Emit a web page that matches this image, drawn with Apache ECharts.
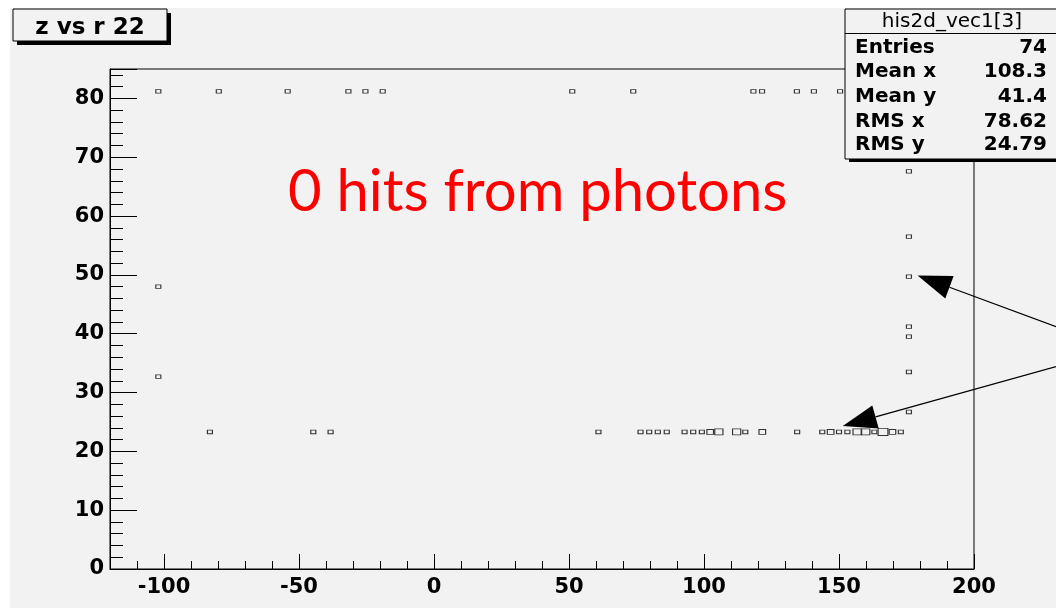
<!DOCTYPE html>
<html>
<head>
<meta charset="UTF-8">
<title>z vs r 22</title>
<script src="https://cdn.jsdelivr.net/npm/echarts@6/dist/echarts.min.js"></script>
<style>
    html, body { margin: 0; padding: 0; background: #fff; }
    #pad { position: absolute; left: 10px; top: 8px; width: 1046px; height: 600px; background: #f2f2f2; }
    #chart { position: absolute; left: 0; top: 0; width: 1056px; height: 610px; }
</style>
</head>
<body>
<div id="pad"></div>
<div id="chart"></div>
<script>
    // hit positions (r, z) and bin contents
    const rValues = [
        -102.1, -79.7, -54.2, -31.7, -25.4, -19.0, 51.2, 73.8, 118.3, 121.5, 134.4, 140.7, 150.4,
        -102.1, -102.1,
        175.9, 175.9, 175.9, 175.9, 175.9, 175.9, 175.9,
        -83.0, -44.7, -38.3, 60.9, 76.5, 79.7, 82.9, 86.2, 92.8, 96.0, 99.2, 102.3, 105.5, 112.1,
        115.3, 121.6, 134.5, 143.8, 146.9, 150.0, 153.1, 156.7, 159.9, 163.1, 166.3, 169.8, 172.9
    ];
    const zValues = [
        81.2, 81.2, 81.2, 81.2, 81.2, 81.2, 81.2, 81.2, 81.2, 81.2, 81.2, 81.2, 81.2,
        48.0, 32.7,
        67.6, 56.5, 49.7, 41.2, 39.5, 33.5, 26.7,
        23.3, 23.3, 23.3, 23.3, 23.3, 23.3, 23.3, 23.3, 23.3, 23.3, 23.3, 23.3, 23.3, 23.3,
        23.3, 23.3, 23.3, 23.3, 23.3, 23.3, 23.3, 23.3, 23.3, 23.3, 23.3, 23.3, 23.3
    ];
    const counts = [
        1, 1, 1, 1, 1, 1, 1, 1, 1, 1, 1, 1, 1,
        1, 1,
        1, 1, 1, 1, 1, 1, 1,
        1, 1, 1, 1, 1, 1, 1, 1, 1, 1, 1, 2, 3, 3,
        1, 2, 1, 1, 2, 1, 1, 3, 3, 1, 4, 2, 1
    ];

    const xRange = [-120, 200];
    const yRange = [0, 85];

    const titleText = 'z vs r 22';
    const statsName = 'his2d_vec1[3]';
    const statsLabels = ['Entries', 'Mean x', 'Mean y', 'RMS x', 'RMS y'];
    const statsValues = ['74', '108.3', '41.4', '78.62', '24.79'];
    const noteText = '0 hits from photons';

    // arrows: start and tip in data units
    const arrows = [
        { from: [230.4, 41.2], to: [179.1, 49.9] },
        { from: [230.4, 34.4], to: [151.4, 24.3] }
    ];

    const chart = echarts.init(document.getElementById('chart'));
    const axisFont = { color: '#000', fontFamily: 'DejaVu Sans', fontWeight: 'bold', fontSize: 21 };

    chart.setOption({
        animation: false,
        backgroundColor: 'transparent',
        grid: {
            left: 110, right: 82, top: 69, bottom: 41,
            show: true, borderColor: '#000', borderWidth: 1, backgroundColor: 'transparent'
        },
        xAxis: {
            type: 'value',
            min: xRange[0],
            max: xRange[1],
            splitNumber: 5,
            axisLine: { onZero: false, lineStyle: { color: '#000', width: 1 } },
            axisTick: { inside: true, length: 15, lineStyle: { color: '#000' } },
            minorTick: { show: true, splitNumber: 5, length: 8, lineStyle: { color: '#000' } },
            splitLine: { show: false },
            axisLabel: Object.assign({ margin: 8, showMinLabel: false }, axisFont)
        },
        yAxis: {
            type: 'value',
            min: yRange[0],
            max: yRange[1],
            interval: 10,
            axisLine: { show: true, onZero: false, lineStyle: { color: '#000', width: 1 } },
            axisTick: { show: true, inside: true, length: 27, lineStyle: { color: '#000' } },
            minorTick: { show: true, splitNumber: 5, length: 13, lineStyle: { color: '#000' } },
            splitLine: { show: false },
            axisLabel: Object.assign({ margin: 6, showMaxLabel: false }, axisFont)
        },
        series: [{
            type: 'scatter',
            silent: true,
            symbol: 'rect',
            data: rValues.map((r, i) => [r, zValues[i], counts[i]]),
            symbolSize: v => [3.4 + 1.6 * v[2], 2.4 + 1.2 * v[2]],
            itemStyle: { color: 'rgba(0,0,0,0)', borderColor: '#333', borderWidth: 1, opacity: 1 }
        }]
    });

    // annotations
    const graphic = [];

    // title box with shadow
    graphic.push({ type: 'rect', z: 100, shape: { x: 17, y: 13, width: 154, height: 32 }, style: { fill: '#000' } });
    graphic.push({ type: 'rect', z: 101, shape: { x: 13, y: 9, width: 154, height: 32 }, style: { fill: '#f2f2f2', stroke: '#000', lineWidth: 1 } });
    graphic.push({ type: 'text', z: 102, style: { x: 90, y: 28, text: titleText, align: 'center', verticalAlign: 'middle', font: 'bold 23px "DejaVu Sans"', fill: '#000' } });

    // stats box with shadow
    graphic.push({ type: 'rect', z: 100, shape: { x: 849, y: 12, width: 240, height: 150 }, style: { fill: '#000' } });
    graphic.push({ type: 'rect', z: 101, shape: { x: 845, y: 9, width: 240, height: 150 }, style: { fill: '#f2f2f2', stroke: '#000', lineWidth: 1 } });
    graphic.push({ type: 'line', z: 102, shape: { x1: 845, y1: 33.5, x2: 1056, y2: 33.5 }, style: { stroke: '#000', lineWidth: 1 } });
    graphic.push({ type: 'text', z: 102, style: { x: 952, y: 22, text: statsName, align: 'center', verticalAlign: 'middle', font: 'normal 20px "DejaVu Sans"', fill: '#000' } });
    const rowY = [48, 72, 97, 121.5, 145];
    statsLabels.forEach((lab, i) => {
        graphic.push({ type: 'text', z: 102, style: { x: 855, y: rowY[i], text: lab, align: 'left', verticalAlign: 'middle', font: 'bold 20px "DejaVu Sans"', fill: '#000' } });
        graphic.push({ type: 'text', z: 102, style: { x: 1047, y: rowY[i], text: statsValues[i], align: 'right', verticalAlign: 'middle', font: 'bold 20px "DejaVu Sans"', fill: '#000' } });
    });

    // red note
    graphic.push({ type: 'text', z: 102, style: { x: 288, y: 192, text: noteText, align: 'left', verticalAlign: 'middle', font: 'normal 58px Lato', fill: '#ff0000' } });

    // arrows
    arrows.forEach(a => {
        const p0 = chart.convertToPixel({ gridIndex: 0 }, a.from);
        const p1 = chart.convertToPixel({ gridIndex: 0 }, a.to);
        const dx = p0[0] - p1[0], dy = p0[1] - p1[1];
        const len = Math.sqrt(dx * dx + dy * dy);
        const ux = dx / len, uy = dy / len;
        const bx = p1[0] + 34 * ux, by = p1[1] + 34 * uy;
        graphic.push({ type: 'line', z: 103, shape: { x1: p0[0], y1: p0[1], x2: bx, y2: by }, style: { stroke: '#000', lineWidth: 1.3 } });
        graphic.push({
            type: 'polygon', z: 103,
            shape: { points: [[p1[0], p1[1]], [bx - 12 * uy, by + 12 * ux], [bx + 12 * uy, by - 12 * ux]] },
            style: { fill: '#000' }
        });
    });

    chart.setOption({ graphic: graphic });
</script>
</body>
</html>
